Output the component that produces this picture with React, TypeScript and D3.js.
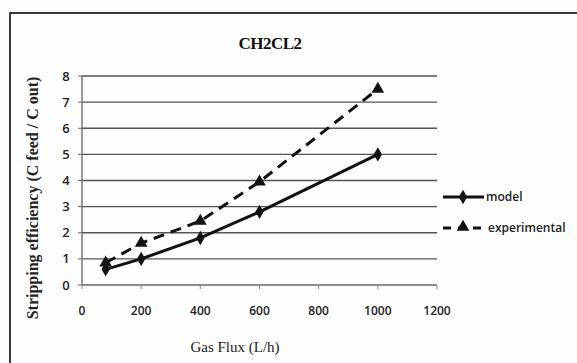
import { useEffect, useRef } from "react";
import * as d3 from "d3";

const gasFlux = [80, 200, 400, 600, 1000];
const modelValues = [0.6, 1.0, 1.8, 2.8, 5.0];
const experimentalValues = [0.85, 1.6, 2.45, 3.95, 7.5];
const xTicks = [0, 200, 400, 600, 800, 1000, 1200];
const yTicks = [0, 1, 2, 3, 4, 5, 6, 7, 8];

const width = 577;
const height = 363;

export default function App() {
    const svgRef = useRef<SVGSVGElement | null>(null);

    useEffect(() => {
        const svg = d3.select(svgRef.current);
        svg.selectAll("*").remove();

        const x = d3.scaleLinear().domain([0, 1200]).range([82, 437]);
        const y = d3.scaleLinear().domain([0, 8]).range([285, 76]);

        // white background + frame
        svg.append("rect").attr("width", width).attr("height", height).attr("fill", "#fdfdfd");
        svg.append("rect")
            .attr("x", 10).attr("y", 13)
            .attr("width", 580).attr("height", 360)
            .attr("fill", "none")
            .attr("stroke", "#3a3a3a")
            .attr("stroke-width", 2);

        // gridlines
        svg.append("g")
            .selectAll("line")
            .data(yTicks.filter(d => d > 0))
            .join("line")
            .attr("x1", x(0)).attr("x2", x(1200))
            .attr("y1", d => y(d)).attr("y2", d => y(d))
            .attr("stroke", "#555")
            .attr("stroke-width", 1.3);

        // axes
        const xAxis = svg.append("g").attr("transform", `translate(0,${y(0)})`);
        xAxis.append("line").attr("x1", x(0)).attr("x2", x(1200)).attr("stroke", "#666").attr("stroke-width", 1.3);
        xAxis.selectAll(".tick")
            .data(xTicks)
            .join("line")
            .attr("x1", d => x(d)).attr("x2", d => x(d))
            .attr("y1", 0).attr("y2", 4)
            .attr("stroke", "#888");
        xAxis.selectAll("text")
            .data(xTicks)
            .join("text")
            .attr("x", d => x(d))
            .attr("y", 30)
            .attr("text-anchor", "middle")
            .attr("font-family", "'Open Sans', sans-serif")
            .attr("font-weight", 600)
            .attr("font-size", 12)
            .attr("fill", "#222")
            .text(d => d);

        const yAxis = svg.append("g");
        yAxis.append("line").attr("x1", x(0)).attr("x2", x(0)).attr("y1", y(0)).attr("y2", y(8)).attr("stroke", "#666").attr("stroke-width", 1.3);
        yAxis.selectAll(".tick")
            .data(yTicks)
            .join("line")
            .attr("x1", x(0) - 4).attr("x2", x(0))
            .attr("y1", d => y(d)).attr("y2", d => y(d))
            .attr("stroke", "#666");
        yAxis.selectAll("text")
            .data(yTicks)
            .join("text")
            .attr("x", 66)
            .attr("y", d => y(d))
            .attr("dy", "0.35em")
            .attr("text-anchor", "middle")
            .attr("font-family", "'Open Sans', sans-serif")
            .attr("font-weight", 600)
            .attr("font-size", 13)
            .attr("fill", "#222")
            .text(d => d);

        // titles
        svg.append("text")
            .attr("x", 270).attr("y", 49)
            .attr("text-anchor", "middle")
            .attr("font-family", "'Liberation Serif', serif")
            .attr("font-weight", "bold")
            .attr("font-size", 17)
            .attr("letter-spacing", -0.5)
            .attr("fill", "#111")
            .text("CH2CL2");
        svg.append("text")
            .attr("x", 235).attr("y", 352)
            .attr("text-anchor", "middle")
            .attr("font-family", "'Liberation Serif', serif")
            .attr("font-size", 15)
            .attr("fill", "#222")
            .text("Gas Flux (L/h)");
        svg.append("text")
            .attr("transform", "translate(38,198) rotate(-90)")
            .attr("text-anchor", "middle")
            .attr("font-family", "'Liberation Serif', serif")
            .attr("font-size", 16)
            .attr("font-weight", 600)
            .attr("fill", "#222")
            .text("Stripping efficiency (C feed / C out)");

        const modelData = gasFlux.map((g, i) => [g, modelValues[i]] as [number, number]);
        const expData = gasFlux.map((g, i) => [g, experimentalValues[i]] as [number, number]);
        const line = d3.line<[number, number]>().x(d => x(d[0])).y(d => y(d[1]));

        svg.append("path")
            .datum(expData)
            .attr("d", line)
            .attr("fill", "none")
            .attr("stroke", "#111")
            .attr("stroke-width", 3)
            .attr("stroke-dasharray", "11,7");
        svg.append("path")
            .datum(modelData)
            .attr("d", line)
            .attr("fill", "none")
            .attr("stroke", "#111")
            .attr("stroke-width", 3);

        const diamond = d3.symbol().type(d3.symbolDiamond).size(60);
        const triangle = d3.symbol().type(d3.symbolTriangle).size(70);

        svg.append("g").selectAll("path")
            .data(modelData)
            .join("path")
            .attr("transform", d => `translate(${x(d[0])},${y(d[1])})`)
            .attr("d", diamond)
            .attr("fill", "#111");
        svg.append("g").selectAll("path")
            .data(expData)
            .join("path")
            .attr("transform", d => `translate(${x(d[0])},${y(d[1])})`)
            .attr("d", triangle)
            .attr("fill", "#111");

        // legend
        const legend = svg.append("g");
        legend.append("line").attr("x1", 443).attr("x2", 484).attr("y1", 197).attr("y2", 197).attr("stroke", "#111").attr("stroke-width", 3);
        legend.append("path").attr("transform", "translate(463,197)").attr("d", diamond).attr("fill", "#111");
        legend.append("text").attr("x", 486).attr("y", 197).attr("dy", "0.35em")
            .attr("font-family", "'Open Sans', sans-serif").attr("font-weight", 600).attr("font-size", 12).attr("fill", "#222")
            .text("model");
        legend.append("line").attr("x1", 443).attr("x2", 484).attr("y1", 228).attr("y2", 228).attr("stroke", "#111").attr("stroke-width", 3).attr("stroke-dasharray", "8,7");
        legend.append("path").attr("transform", "translate(463,227)").attr("d", triangle).attr("fill", "#111");
        legend.append("text").attr("x", 488).attr("y", 228).attr("dy", "0.35em")
            .attr("font-family", "'Open Sans', sans-serif").attr("font-weight", 600).attr("font-size", 12).attr("fill", "#222")
            .text("experimental");
    }, []);

    return (
        <div style={{ position: "absolute", left: 0, top: 0 }}>
            <svg ref={svgRef} width={width} height={height} style={{ display: "block" }} />
        </div>
    );
}
